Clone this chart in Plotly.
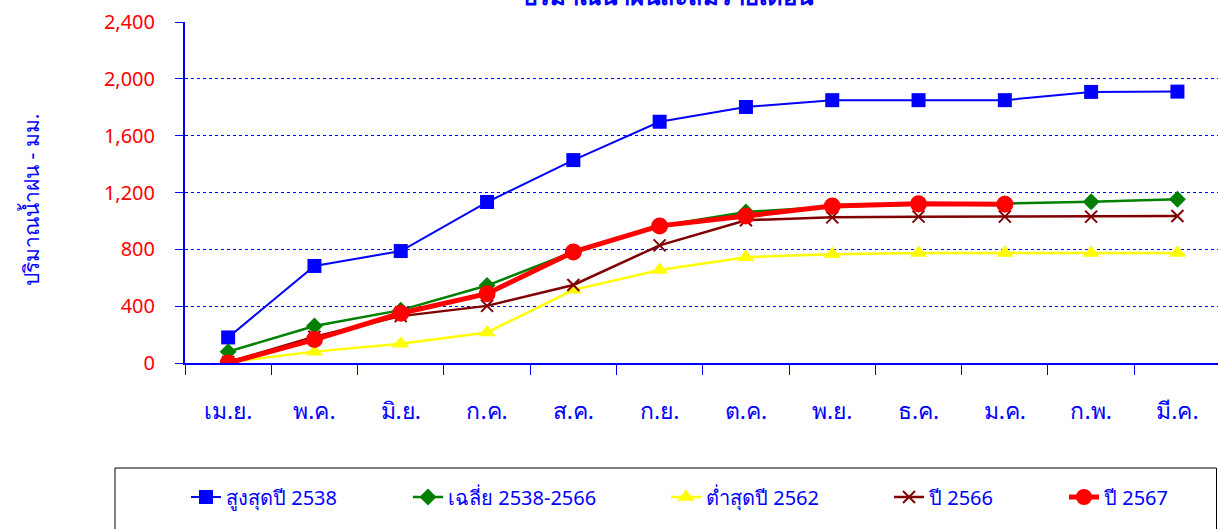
import plotly.graph_objects as go

months = ["เม.ย.", "พ.ค.", "มิ.ย.", "ก.ค.", "ส.ค.", "ก.ย.", "ต.ค.", "พ.ย.", "ธ.ค.", "ม.ค.", "ก.พ.", "มี.ค."]

max_2538 = [180, 683, 788, 1133, 1428, 1698, 1802, 1850, 1850, 1850, 1908, 1910]
avg_2538_2566 = [80, 260, 372, 545, 782, 965, 1063, 1100, 1115, 1122, 1135, 1152]
min_2562 = [5, 80, 135, 215, 515, 655, 745, 765, 775, 775, 775, 775]
y2566 = [5, 185, 330, 402, 549, 828, 1005, 1025, 1030, 1030, 1030, 1035]
y2567 = [0, 165, 350, 488, 782, 965, 1035, 1105, 1120, 1118]

yticks = [0, 400, 800, 1200, 1600, 2000, 2400]
ytick_text = ["0", "400", "800", "1,200", "1,600", "2,000", "2,400"]

names = ["สูงสุดปี 2538", "เฉลี่ย 2538-2566", "ต่ำสุดปี 2562", "ปี 2566", "ปี 2567"]

FONT = "Tahoma, 'Noto Sans', 'DejaVu Sans', sans-serif"
W, H = 1218, 529
ML, MR, MT, MB = 185, 0, 22, 166
PW = W - ML - MR
PH = H - MT - MB

def px_x(p):
    return (p - ML) / PW

def px_y(p):
    return (MT + PH - p) / PH

fig = go.Figure()

series = [
    (max_2538, "#0000FF", 2, "square", 14),
    (avg_2538_2566, "#008000", 2.5, "diamond", 13),
    (min_2562, "#FFFF00", 2.5, "triangle-up", 15),
    (y2566, "#800000", 2.5, "x-thin", 12),
    (y2567, "#FF0000", 5, "circle", 17),
]
legend_text_px = [226, 448, 706, 929, 1104]

for i, (vals, col, lw, sym, ms) in enumerate(series):
    fig.add_trace(go.Scatter(
        x=months[:len(vals)], y=vals, name=names[i], mode="lines+markers",
        line=dict(color=col, width=lw),
        marker=dict(color=col, symbol=sym, size=ms,
                    line=dict(color=col, width=2 if sym == "x-thin" else 0)),
        legend="legend" if i == 0 else f"legend{i+1}",
    ))

layout_legends = {}
for i, px in enumerate(legend_text_px):
    key = "legend" if i == 0 else f"legend{i+1}"
    layout_legends[key] = dict(
        xref="container", yref="container", x=(px - 40) / W, y=(H - 497) / H,
        xanchor="left", yanchor="middle", orientation="h",
        bgcolor="rgba(0,0,0,0)", borderwidth=0,
        font=dict(family=FONT, size=20, color="#0000FF"),
    )

fig.update_layout(
    width=W, height=H,
    margin=dict(l=ML, r=MR, t=MT, b=MB),
    paper_bgcolor="white", plot_bgcolor="white",
    showlegend=True,
    **layout_legends,
)

fig.update_xaxes(
    type="category", range=[-0.5, 11.47],
    showline=True, linecolor="#0000FF", linewidth=2,
    showgrid=False, tickson="boundaries", ticks="outside", ticklen=10,
    tickcolor="#0000FF", tickwidth=1,
    tickfont=dict(family=FONT, size=23, color="#0000FF"),
    ticklabelstandoff=26, automargin=False,
)
fig.update_yaxes(
    range=[0, 2400], tickvals=yticks, ticktext=ytick_text,
    showline=True, linecolor="#0000FF", linewidth=2,
    showgrid=True, gridcolor="#0000FF", gridwidth=1, griddash="dot",
    ticks="outside", ticklen=8, tickcolor="#0000FF",
    tickfont=dict(family=FONT, size=20, color="#FF0000"),
    ticklabelstandoff=16, zeroline=False, automargin=False,
)

# y-axis title
fig.add_annotation(
    text="ปริมาณน้ำฝน - มม.", xref="paper", yref="paper",
    x=px_x(31), y=px_y(200), xanchor="center", yanchor="middle", textangle=-90,
    showarrow=False, font=dict(family=FONT, size=21, color="#0000FF"),
)

# chart title, partially off the top edge as in the reference
fig.add_annotation(
    text="<b>ปริมาณน้ำฝนสะสมรายเดือน</b>", xref="paper", yref="paper",
    x=px_x(668), y=px_y(-5), xanchor="center", yanchor="middle",
    showarrow=False, font=dict(family=FONT, size=24, color="#0000FF"),
)

# legend frame
fig.add_shape(type="rect", xref="paper", yref="paper",
              x0=px_x(115), x1=px_x(1216.5), y0=px_y(540), y1=px_y(468),
              line=dict(color="#000000", width=1), fillcolor="rgba(0,0,0,0)")

fig.write_html("out.html", config={"displayModeBar": False},
               post_script="document.body.style.margin='0';")
